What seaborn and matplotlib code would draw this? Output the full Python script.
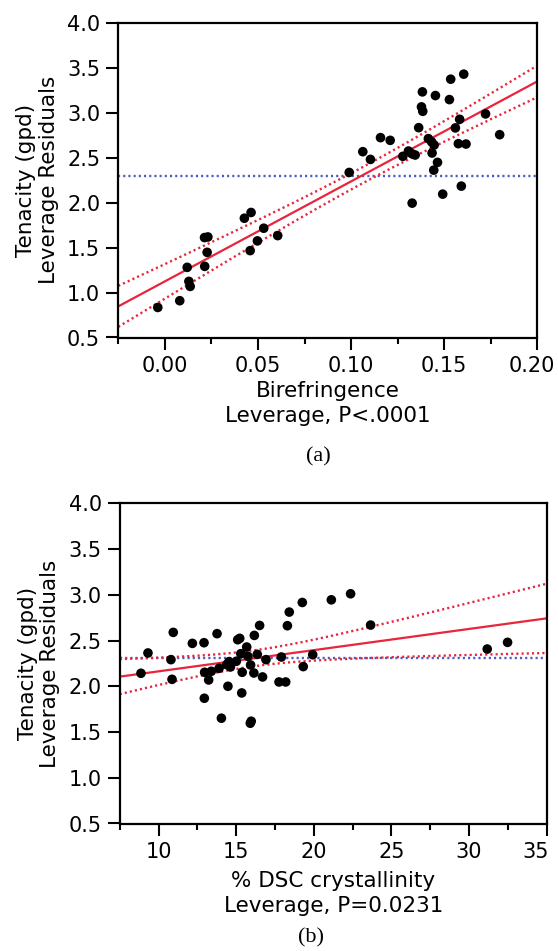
import numpy as np
import pandas as pd
import matplotlib
matplotlib.use("Agg")
import matplotlib.pyplot as plt
from matplotlib.ticker import MultipleLocator, FormatStrFormatter
from matplotlib.transforms import ScaledTranslation
import seaborn as sns

# ---------------- data ----------------
# Panel (a): Birefringence leverage vs tenacity leverage residuals
biref_x = [-0.0038, 0.0080, 0.0120, 0.0129, 0.0136, 0.0214, 0.0213, 0.0231, 0.0227,
           0.0427, 0.0463, 0.0458, 0.0497, 0.0531, 0.0606,
           0.0990, 0.1063, 0.1104, 0.1158, 0.1210, 0.1278, 0.1308, 0.1326, 0.1344,
           0.1328, 0.1363, 0.1378, 0.1385, 0.1383, 0.1415, 0.1433, 0.1446, 0.1435,
           0.1464, 0.1444, 0.1453, 0.1492, 0.1528, 0.1535, 0.1560, 0.1583, 0.1576,
           0.1617, 0.1592, 0.1605, 0.1722, 0.1798]
biref_y = [0.834, 0.909, 1.280, 1.124, 1.068, 1.291, 1.611, 1.618, 1.447,
           1.826, 1.890, 1.466, 1.574, 1.715, 1.633,
           2.335, 2.566, 2.480, 2.722, 2.692, 2.514, 2.573, 2.544, 2.529,
           1.994, 2.833, 3.064, 3.015, 3.231, 2.711, 2.674, 2.640, 2.551,
           2.447, 2.361, 3.190, 2.094, 3.145, 3.372, 2.830, 2.926, 2.655,
           2.651, 2.183, 3.428, 2.986, 2.755]

# Panel (b): % DSC crystallinity leverage vs tenacity leverage residuals
dsc_x = [8.87, 9.32, 10.80, 10.87, 10.95, 12.18, 12.93, 12.95, 12.97, 13.23,
         13.40, 13.77, 13.90, 14.05, 14.47, 14.54, 14.39, 14.63, 15.01, 15.10,
         15.23, 15.30, 15.39, 15.36, 15.68, 15.76, 15.93, 15.91, 15.97, 16.14,
         16.17, 16.36, 16.51, 16.70, 16.92, 17.76, 18.19, 17.91, 18.30, 18.42,
         19.26, 19.32, 19.93, 21.13, 22.37, 23.66, 31.17, 32.48]
dsc_y = [2.142, 2.364, 2.291, 2.076, 2.589, 2.469, 2.476, 1.869, 2.153, 2.069,
         2.164, 2.575, 2.196, 1.651, 2.000, 2.269, 2.236, 2.211, 2.273, 2.509,
         2.524, 2.356, 2.153, 1.927, 2.429, 2.327, 2.233, 1.596, 1.618, 2.145,
         2.556, 2.349, 2.665, 2.102, 2.291, 2.047, 2.047, 2.320, 2.662, 2.811,
         2.916, 2.215, 2.345, 2.945, 3.011, 2.669, 2.407, 2.480]

x_labels = ["Birefringence\nLeverage, P<.0001", "% DSC crystallinity\nLeverage, P=0.0231"]
y_label = "Tenacity (gpd)\nLeverage Residuals"
panel_tags = ["(a)", "(b)"]
T_CRIT = 2.013  # two-sided 95% t quantile, df ~ 45

RED = "#e8253b"
BLUE = "#4a5cc4"

sns.set_theme(style="white")
plt.rcParams['font.family'] = ['DejaVu Sans']

fig = plt.figure(figsize=(5.58, 9.51), dpi=100)
W, H = 558.0, 951.0


def add_axes_px(left, top, right, bottom):
    return fig.add_axes([left / W, 1 - bottom / H, (right - left) / W, (bottom - top) / H])


ax_a = add_axes_px(118.3, 22.7, 537.3, 337.5)
ax_b = add_axes_px(119.7, 503.3, 546.7, 823.5)


def leverage_panel(ax, x, y, xlim, major, minor, fmt, xlabel, labelpad):
    df = pd.DataFrame({"x": x, "y": y})
    ax.set_xlim(*xlim)
    ax.set_ylim(0.5, 4.0)
    # fit and confidence curves from the data
    xa = df["x"].to_numpy()
    ya = df["y"].to_numpy()
    n = len(xa)
    b1, b0 = np.polyfit(xa, ya, 1)
    resid = ya - (b0 + b1 * xa)
    s = np.sqrt(np.sum(resid ** 2) / (n - 2))
    xbar = xa.mean()
    sxx = np.sum((xa - xbar) ** 2)
    xs = np.linspace(xlim[0], xlim[1], 300)
    fit = b0 + b1 * xs
    hw = T_CRIT * s * np.sqrt(1.0 / n + (xs - xbar) ** 2 / sxx)
    ax.axhline(ya.mean(), color=BLUE, lw=1.7, ls=(0, (0.9, 1.3)), zorder=1)
    ax.plot(xs, fit + hw, color=RED, lw=1.7, ls=(0, (0.9, 1.3)), zorder=2)
    ax.plot(xs, fit - hw, color=RED, lw=1.7, ls=(0, (0.9, 1.3)), zorder=2)
    ax.plot(xs, fit, color=RED, lw=1.6, zorder=2)
    sns.scatterplot(data=df, x="x", y="y", ax=ax, color="black", s=48,
                    edgecolor="none", linewidth=0, zorder=3, clip_on=False)

    ax.xaxis.set_major_locator(MultipleLocator(major))
    ax.xaxis.set_minor_locator(MultipleLocator(minor))
    ax.xaxis.set_major_formatter(FormatStrFormatter(fmt))
    ax.yaxis.set_major_locator(MultipleLocator(0.5))
    ax.yaxis.set_major_formatter(FormatStrFormatter("%.1f"))
    ax.tick_params(axis="both", which="major", direction="out", length=8.5, width=1.5,
                   color="black", labelsize=15, labelcolor="black", pad=4.5)
    ax.tick_params(axis="x", which="minor", direction="out", length=4.3, width=1.5,
                   color="black", bottom=True)
    ax.tick_params(axis="both", which="both", bottom=True, left=True, top=False, right=False)
    for sp in ax.spines.values():
        sp.set_visible(True)
        sp.set_color("black")
        sp.set_linewidth(1.6)
    ax.set_xlabel(xlabel, fontsize=15.5, color="black", linespacing=1.3, labelpad=labelpad)
    ax.set_ylabel(y_label, fontsize=15.5, color="black", linespacing=1.15, labelpad=6)
    ax.grid(False)


leverage_panel(ax_a, biref_x, biref_y, (-0.025, 0.20), 0.05, 0.025, "%.2f", x_labels[0], 4)
leverage_panel(ax_b, dsc_x, dsc_y, (7.5, 35.0), 5, 2.5, "%d", x_labels[1], 7)

# the rightmost tick labels sit at the figure edge; nudge them left so they stay legible
fig.canvas.draw()
for ax_, txt, dx in ((ax_a, "0.20", -4), (ax_b, "35", -8)):
    for t in ax_.get_xticklabels():
        if t.get_text() == txt:
            t.set_transform(t.get_transform() + ScaledTranslation(dx / 72, 0, fig.dpi_scale_trans))

fig.text(318 / W, 1 - 457 / H, panel_tags[0], ha="center", va="center",
         fontsize=16, family=["Liberation Serif"], color="black")
fig.text(311 / W, 1 - 938 / H, panel_tags[1], ha="center", va="center",
         fontsize=16, family=["Liberation Serif"], color="black")

fig.savefig("out.png", dpi=100, facecolor="white")
